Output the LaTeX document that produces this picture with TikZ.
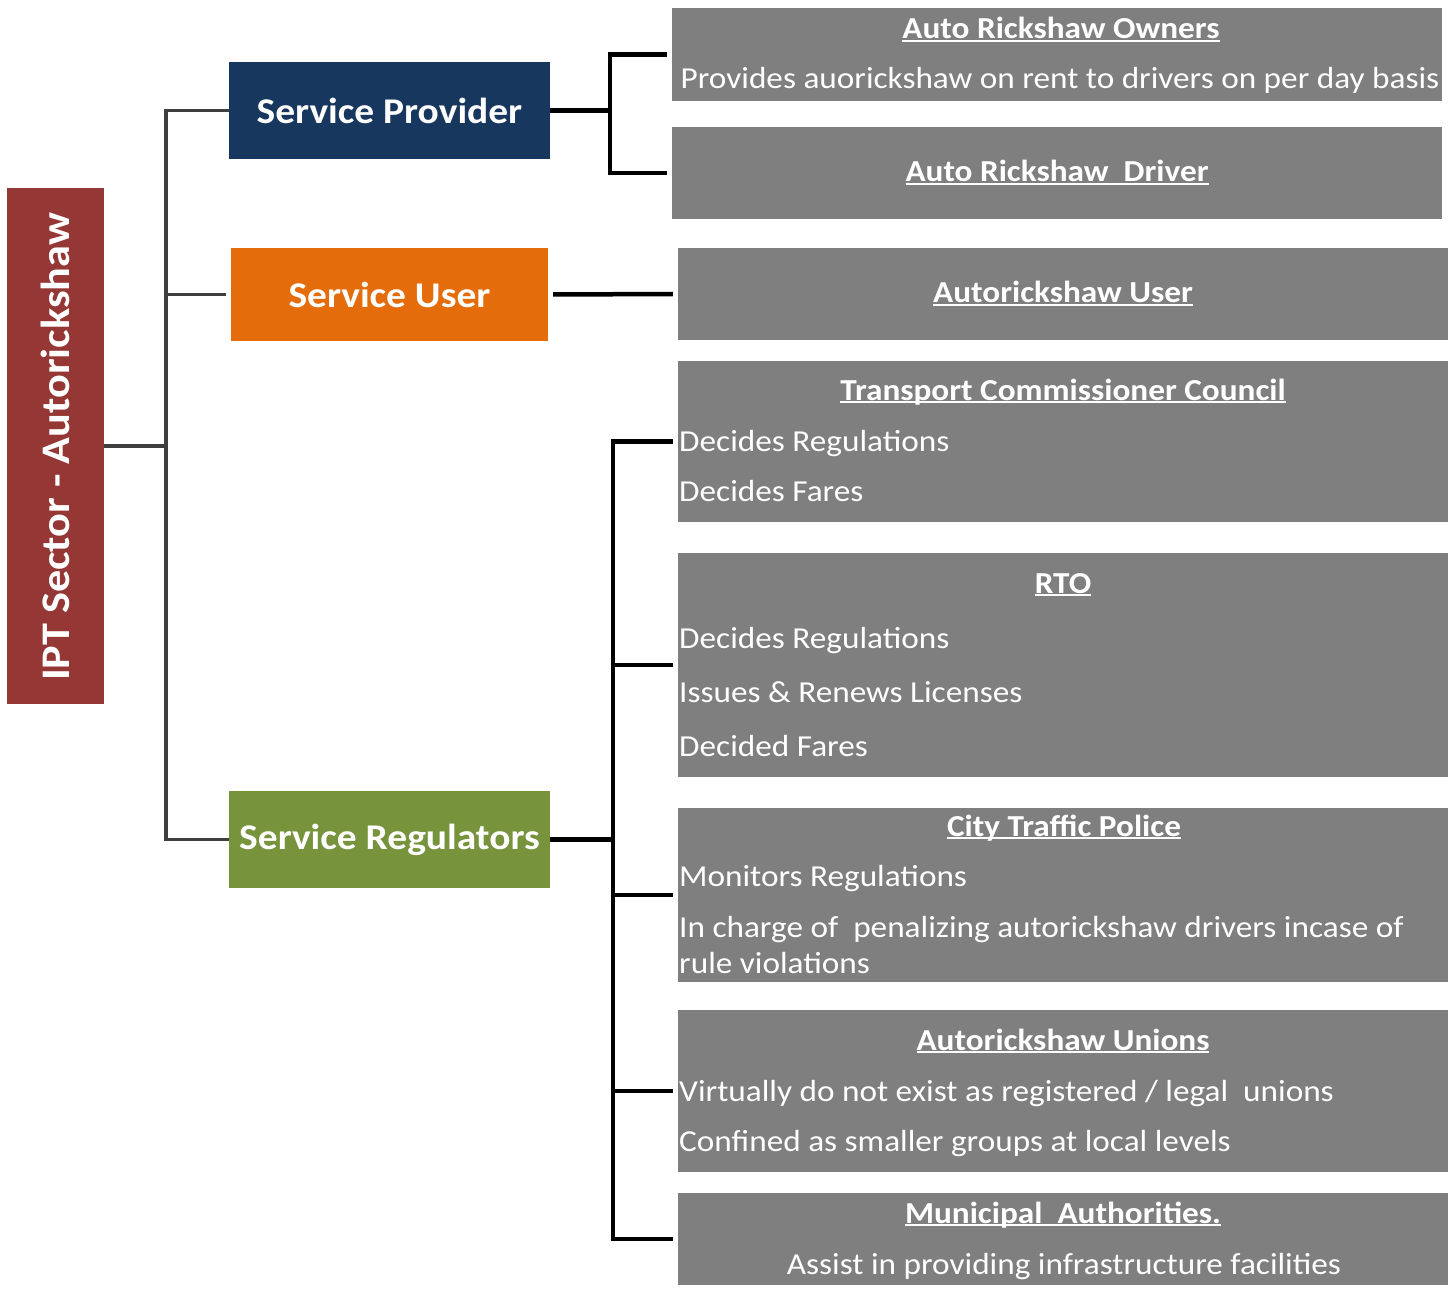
\documentclass[tikz,border=0pt]{standalone}
\usepackage{fontspec}
\setmainfont{Carlito}[FakeStretch=1.09]
\definecolor{rootred}{HTML}{953735}
\definecolor{provnavy}{HTML}{17375E}
\definecolor{userorange}{HTML}{E46C0A}
\definecolor{reggreen}{HTML}{77933C}
\definecolor{boxgray}{HTML}{7F7F7F}
\definecolor{trunkgray}{HTML}{3F3F3F}
% underline drawn close to the baseline, as in office-style headings
\newcommand\hdline[1]{\setbox0\hbox{#1}\rlap{\rule[-0.11em]{\wd0}{0.07em}}\box0}
\begin{document}
\begin{tikzpicture}[x=1pt,y=-1pt,
  catbox/.style={fill=#1, text=white, inner sep=0pt, font=\bfseries\fontsize{36.2}{40}\selectfont},
  infobox/.style={fill=boxgray, inner sep=0pt, minimum width=770pt},
  head/.style={text=white, inner sep=0pt, anchor=base, font=\bfseries\fontsize{30.5}{34}\selectfont},
  body/.style={text=white, inner sep=0pt, anchor=base west, font=\fontsize{30.5}{34}\selectfont},
  bodyc/.style={body, anchor=base},
  trunk/.style={line width=3.5pt, draw=trunkgray},
  bracket/.style={line width=4.5pt, draw=black}]
\useasboundingbox (0,0) rectangle (1451,1289);

% left column: root and the three categories
\node[catbox=rootred, minimum width=97pt, minimum height=516pt] (root) at (55.5,446) {};
\node[text=white, rotate=90, font=\bfseries\fontsize{40.6}{44}\selectfont] (roottext) at (55.5,447) {IPT Sector - Autorickshaw};
\node[catbox=provnavy, minimum width=321pt, minimum height=97pt] (sp) at (389.5,110.5) {Service Provider};
\node[catbox=userorange, minimum width=317pt, minimum height=93pt] (su) at (389.5,294.5) {Service User};
\node[catbox=reggreen, minimum width=321pt, minimum height=97pt] (sr) at (389.5,839.5) {Service Regulators};

% right column: stakeholder boxes
\node[infobox, minimum height=93pt] (own) at (1057,54.5) {};
\node[infobox, minimum height=92pt] (drv) at (1057,173) {};
\node[infobox, minimum height=92pt] (usr) at (1063,294) {};
\node[infobox, minimum height=161pt] (tcc) at (1063,441.5) {};
\node[infobox, minimum height=224pt] (rto) at (1063,665) {};
\node[infobox, minimum height=174pt] (ctp) at (1063,895) {};
\node[infobox, minimum height=162pt] (uni) at (1063,1091) {};
\node[infobox, minimum height=92pt] (mun) at (1063,1239) {};

% texts of the stakeholder boxes
\node[head] (ownh) at (1061,39) {\hdline{Auto Rickshaw Owners}};
\node[bodyc] (own1) at (1060,89) {Provides auorickshaw on rent to drivers on per day basis};
\node[head] (drvh) at (1057,182) {\hdline{Auto Rickshaw\ \ Driver}};
\node[head] (usrh) at (1063,303) {\hdline{Autorickshaw User}};
\node[head] (tcch) at (1063,400) {\hdline{Transport Commissioner Council}};
\node[body] (tcc1) at (679,451) {Decides Regulations};
\node[body] (tcc2) at (679,501) {Decides Fares};
\node[head] (rtoh) at (1063,593) {\hdline{RTO}};
\node[body] (rto1) at (679,648) {Decides Regulations};
\node[body] (rto2) at (679,702) {Issues \& Renews Licenses};
\node[body] (rto3) at (679,756) {Decided Fares};
\node[head] (ctph) at (1064,836) {\hdline{City Traffic Police}};
\node[body] (ctp1) at (679,886) {Monitors Regulations};
\node[body] (ctp2) at (679,937) {In charge of\ \ penalizing autorickshaw drivers incase of};
\node[body] (ctp3) at (679,973) {rule violations};
\node[head] (unih) at (1063,1050) {\hdline{Autorickshaw Unions}};
\node[body] (uni1) at (679,1101) {Virtually do not exist as registered / legal\ \ unions};
\node[body] (uni2) at (679,1151) {Confined as smaller groups at local levels};
\node[head] (munh) at (1063,1223) {\hdline{Municipal\ \ Authorities.}};
\node[bodyc] (mun1) at (1064,1274) {Assist in providing infrastructure facilities};

% trunk from the root to the categories
\coordinate (tt) at (166,110.5);
\draw[trunk] (sp.west) -- (tt) |- (sr.west);
\draw[trunk] ([xshift=-5pt]su.west) -- (su.west -| tt);
\draw[trunk] (root.east) -- (root.east -| tt);

% provider bracket
\coordinate (pj) at (610,110.5);
\draw[bracket] (sp.east) -- (pj);
\draw[bracket] ([xshift=-5pt]own.west) -| (pj |- drv.west) -- ([xshift=-5pt]drv.west);

% user link
\draw[bracket] ([xshift=5pt]su.east) -- ([xshift=-5pt]usr.west);

% regulators bracket
\coordinate (rj) at (613,839.5);
\draw[bracket] (sr.east) -- (rj);
\draw[bracket] ([xshift=-5pt]tcc.west) -| (rj |- mun.west) -- ([xshift=-5pt]mun.west);
\foreach \n in {rto,ctp,uni}
  \draw[bracket] ([xshift=-5pt]\n.west) -- (rj |- \n.west);
\end{tikzpicture}
\end{document}
